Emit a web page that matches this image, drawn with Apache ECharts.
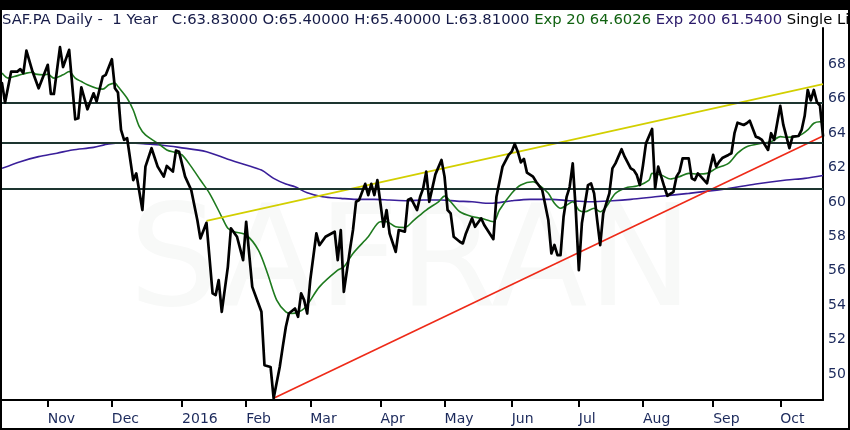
<!DOCTYPE html>
<html><head><meta charset="utf-8">
<script src="https://cdn.jsdelivr.net/npm/echarts/dist/echarts.min.js"></script>
<style>
html,body{margin:0;padding:0;background:#000;width:850px;height:430px;overflow:hidden}
#c{position:absolute;left:2px;top:10px;width:846px;height:418px;background:#fff}
</style></head><body><div id="c"></div>
<script>
// ---- categories: trading days (weekdays) 2015-10-12 .. 2016-10-21 ----
const startDate = '2015-10-12';
const endDate = '2016-10-21';
const dates = [];
for (let d = new Date(startDate + 'T00:00:00Z'); d <= new Date(endDate + 'T00:00:00Z'); d.setUTCDate(d.getUTCDate() + 1)) {
  const w = d.getUTCDay();
  if (w !== 0 && w !== 6) dates.push(d.toISOString().slice(0, 10));
}
// month tick labels by month number (Jan shows the year)
const tickLabels = ['2016','Feb','Mar','Apr','May','Jun','Jul','Aug','Sep','Oct','Nov','Dec'];

// ---- price (daily close), vertices as [trading-day index] / [value] ----
const priceDay = [0,1,3,5,6,7,8,10,12,15,16,17,19,20,22,24,25,26,28,30,31,33,34,36,37,38,39,40,41,43,44,46,
  47,49,51,53,54,56,57,58,60,62,64,65,67,69,70,71,72,74,75,77,79,80,82,84,85,86,88,89,91,92,93,94,96,97,98,99,100,
  101,103,104,106,109,110,111,112,114,115,116,117,119,120,121,122,123,125,126,127,129,130,132,133,134,136,137,138,139,140,
  142,144,145,146,147,148,150,151,152,154,155,157,158,161,162,164,166,167,168,169,170,171,172,174,175,177,179,180,181,182,183,
  184,185,186,187,188,189,190,192,193,194,195,196,197,199,200,201,203,204,206,207,208,209,210,211,213,214,215,216,217,218,220,
  221,222,223,225,226,227,228,229,231,232,233,234,235,236,238,239,240,241,243,244,245,247,248,249,250,251,252,253,255,256,258,
  259,261,262,263,264,265,266,267,268,269];
const priceVal = [66.90,65.77,67.57,67.57,67.71,67.48,68.79,67.57,66.60,67.96,66.27,66.27,68.99,67.83,68.83,64.80,64.86,66.66,65.38,66.31,65.83,67.28,67.38,68.29,66.60,66.35,64.18,63.60,63.70,61.27,61.66,59.53,
  62.05,63.12,62.05,61.47,62.09,61.76,62.98,62.92,61.47,60.69,58.95,57.88,58.79,54.69,54.59,55.46,53.62,56.23,58.47,57.98,56.62,58.85,55.07,54.10,53.62,50.52,50.42,48.60,50.42,51.60,52.74,53.52,53.81,53.33,54.69,54.30,53.52,
  55.46,58.17,57.49,57.98,58.27,56.62,58.37,54.78,57.22,58.37,60.01,60.11,61.05,60.39,61.05,60.40,61.27,58.56,59.53,58.17,57.10,58.37,58.27,60.11,60.21,59.53,60.30,60.79,61.76,60.01,
  61.60,62.44,61.47,59.53,59.34,57.98,57.69,57.59,58.17,59.05,58.56,59.05,58.66,57.84,60.30,62.05,62.73,62.92,63.37,62.92,62.30,62.50,61.70,61.47,61.17,60.69,58.95,57.01,57.50,56.91,56.91,
  59.14,60.30,60.88,62.24,59.53,56.04,58.76,60.98,61.08,60.50,58.95,57.49,59.34,60.50,61.95,62.24,63.06,62.63,61.95,61.85,61.56,60.98,62.10,63.40,64.24,60.80,62.05,61.47,60.88,60.36,60.59,
  61.47,61.76,62.53,62.53,61.37,61.27,61.66,61.47,61.08,61.95,62.73,62.05,62.34,62.55,62.73,62.83,63.99,64.60,64.47,64.57,64.72,63.79,63.72,63.60,63.31,63.02,63.99,63.60,65.58,64.47,63.12,
  63.79,63.83,64.18,65.00,66.50,65.90,66.50,65.80,65.60,63.83];

// ---- Exp 20 ----
const ema20Day = [0,2,4,6,8,10,11,14,15,17,20,22,24,26,28,31,33,35,37,38,41,43,45,47,51,54,57,59,62,65,68,72,74,76,80,84,87,90,93,95,99,
  104,110,112,115,120,124,126,129,132,135,139,143,145,147,150,154,157,161,163,167,170,174,176,179,181,183,185,187,189,191,194,196,198,
  201,205,208,212,213,216,219,222,225,228,231,234,238,241,244,249,252,255,257,261,264,266,268,269];
const ema20Val = [67.48,67.19,67.28,67.38,67.48,67.53,67.42,67.38,67.42,67.19,67.38,67.57,67.19,66.99,66.80,66.60,66.55,66.80,66.90,66.70,66.02,65.34,64.37,63.89,63.41,63.02,62.86,62.73,62.05,61.27,60.50,59.14,58.47,58.27,58.08,57.20,55.85,54.30,53.62,53.52,53.81,
  55.07,56.04,56.23,57.01,57.98,58.85,58.85,58.56,58.52,58.95,59.53,60.01,60.34,60.01,59.43,59.15,59.05,58.85,59.53,60.50,60.98,61.17,60.98,60.50,59.92,59.63,59.82,60.01,59.53,59.43,59.63,59.43,59.72,
  60.50,60.85,60.92,61.27,61.66,61.56,61.33,61.47,61.66,61.62,61.66,61.95,62.24,62.83,63.21,63.41,63.50,63.79,63.76,63.83,64.18,64.57,64.66,64.60];

// ---- Exp 200 ----
const ema200Day = [0,6,12,18,23,30,35,41,47,52,58,67,74,80,85,89,93,96,100,105,111,116,122,127,133,138,144,149,154,160,167,173,180,186,193,200,206,214,225,236,247,257,263,269];
const ema200Val = [61.95,62.34,62.63,62.83,63.02,63.17,63.37,63.44,63.37,63.31,63.17,62.92,62.48,62.15,61.85,61.37,61.04,60.88,60.53,60.30,60.21,60.15,60.15,60.11,60.07,60.11,60.11,60.05,60.01,59.92,60.07,60.15,60.15,60.07,60.01,60.07,60.15,60.30,60.50,60.73,61.04,61.27,61.37,61.54];

// ---- drawn lines ----
const levels = [65.77, 63.44, 60.77];
const yellowDay = [67, 269], yellowVal = [58.9, 66.84];
const redDay = [89, 269], redVal = [48.6, 63.83];

const pairs = (days, vals) => days.map((d, i) => [dates[d], vals[i]]);
const isMonthStart = (i) => i > 0 && dates[i].slice(5, 7) !== dates[i - 1].slice(5, 7);

const chart = echarts.init(document.getElementById('c'), null, {renderer: 'canvas'});
const font = '"DejaVu Sans", "Lucida Grande", sans-serif';
const tfs = 14.8;
chart.setOption({
  animation: false,
  backgroundColor: '#fff',
  title: {
    left: 0, top: 3, padding: 0,
    text: '{a|SAF.PA Daily -  1 Year   C:63.83000 O:65.40000 H:65.40000 L:63.81000} {g|Exp 20 64.6026} {p|Exp 200 61.5400} {b|Single Line}',
    textStyle: {
      fontFamily: font, fontSize: tfs, fontWeight: 'normal',
      rich: {
        a: {color: '#161b48', fontFamily: font, fontSize: tfs},
        g: {color: '#116211', fontFamily: font, fontSize: tfs},
        p: {color: '#2a1a6a', fontFamily: font, fontSize: tfs},
        b: {color: '#000', fontFamily: font, fontSize: tfs}
      }
    }
  },
  graphic: [{
    type: 'text', x: 409, y: 258, z: 0, silent: true,
    style: {text: 'SAFRAN', font: '141px "DejaVu Sans"', fill: '#f8f9f8', align: 'center', verticalAlign: 'middle'}
  }],
  grid: {left: 0, right: 25, top: 18, bottom: 28, containLabel: false, outerBoundsMode: 'none'},
  xAxis: {
    type: 'category', data: dates, boundaryGap: false,
    axisLine: {show: true, onZero: false, lineStyle: {color: '#000', width: 2}},
    axisTick: {show: true, inside: false, length: 7, interval: (i) => isMonthStart(i), lineStyle: {color: '#000', width: 2}},
    axisLabel: {
      interval: (i) => isMonthStart(i), align: 'left', margin: 12,
      color: '#1c2a5c', fontSize: 14, fontFamily: font,
      formatter: (v) => tickLabels[+v.slice(5, 7) - 1]
    },
    splitLine: {show: false}
  },
  yAxis: {
    type: 'value', position: 'right', min: 48.5, max: 70.1, splitNumber: 11, scale: true,
    axisLine: {show: true, lineStyle: {color: '#000', width: 2}},
    axisTick: {show: false},
    splitLine: {show: false},
    axisLabel: {
      show: true, margin: 5, color: '#1c2a5c', fontSize: 14, fontFamily: font,
      showMinLabel: false, showMaxLabel: false,
      formatter: (v) => (v > 69 || v < 49) ? '' : String(v)
    }
  },
  series: [
    {type: 'line', name: 'levels', data: [], silent: true,
     markLine: {silent: true, symbol: ['none', 'none'], label: {show: false},
       lineStyle: {color: '#1d3530', width: 2, type: 'solid'},
       emphasis: {disabled: true},
       data: levels.map(v => ({yAxis: v}))}},
    {type: 'line', name: 'Exp 200', data: pairs(ema200Day, ema200Val), smooth: 0.3, showSymbol: false, symbol: 'none',
     lineStyle: {color: '#3a1f9a', width: 1.6}, z: 3},
    {type: 'line', name: 'Exp 20', data: pairs(ema20Day, ema20Val), smooth: 0.3, showSymbol: false, symbol: 'none',
     lineStyle: {color: '#1e7a1e', width: 1.6}, z: 3},
    {type: 'line', name: 'trend high', data: pairs(yellowDay, yellowVal), showSymbol: false, symbol: 'none',
     lineStyle: {color: '#d2cf00', width: 1.6}, z: 4},
    {type: 'line', name: 'trend low', data: pairs(redDay, redVal), showSymbol: false, symbol: 'none',
     lineStyle: {color: '#ee2a18', width: 1.6}, z: 4},
    {type: 'line', name: 'SAF.PA', data: pairs(priceDay, priceVal), showSymbol: false, symbol: 'none',
     lineStyle: {color: '#000', width: 2.7, join: 'round', cap: 'round'}, z: 5}
  ]
});
</script></body></html>
